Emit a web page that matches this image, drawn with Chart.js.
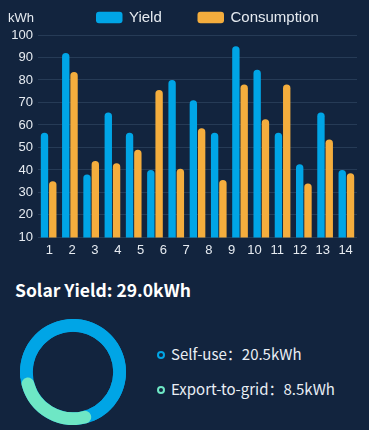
<!DOCTYPE html>
<html>
<head>
<meta charset="utf-8">
<script src="https://cdn.jsdelivr.net/npm/chart.js@4"></script>
<style>
  html, body { margin: 0; padding: 0; background: #12243e; }
  body { width: 369px; height: 430px; position: relative; overflow: hidden; }
  #bars { position: absolute; left: 0; top: 0; }
  #ring { position: absolute; left: 20px; top: 319px; }
  .title {
    position: absolute; left: 15px; top: 280px;
    font: bold 17.5px "Noto Sans CJK SC", sans-serif; line-height: 20px; color: #ffffff;
  }
  .item {
    position: absolute; left: 157px;
    font: 15px "Noto Sans CJK SC", sans-serif; line-height: 20px; color: #e9eef4;
    white-space: nowrap;
  }
  .item i {
    display: inline-block; width: 4px; height: 4px; border-radius: 50%;
    border: 2px solid; margin-right: 6px; vertical-align: 1px;
  }
</style>
</head>
<body>
<canvas id="bars" width="369" height="265"></canvas>
<div class="title" id="title"></div>
<canvas id="ring" width="106" height="106"></canvas>
<div id="items"></div>

<script>
// bar chart data
const days = ['1', '2', '3', '4', '5', '6', '7', '8', '9', '10', '11', '12', '13', '14', '15'];
const tickLabels = ['1', '2', '3', '4', '5', '6', '7', '8', '9', '10', '11', '12', '13', '14'];
const yieldValues = [56.5, 92, 38, 65.5, 56.5, 40, 80, 71, 56.5, 95, 84.5, 56.5, 42.5, 65.5, 40];
const consumptionValues = [35, 83.5, 44, 43, 49, 75.5, 40.5, 58.5, 35.5, 78, 62.5, 78, 34, 53.5, 38.5];

// doughnut data
const splitLabels = ['Self-use', 'Export-to-grid'];
const splitValues = [20.5, 8.5];

const blue = '#00a5e6';
const orange = '#f4ad3d';
const mint = '#6ee7c5';
const textColor = '#e6ebf1';
const gridColor = '#263b56';

// legend + unit label drawn on top of the bar chart
const topLegend = {
  id: 'topLegend',
  afterDraw(chart, args, opts) {
    const ctx = chart.ctx;
    ctx.save();
    ctx.textBaseline = 'middle';
    ctx.font = '13px "Liberation Sans", Arial, sans-serif';
    ctx.fillStyle = textColor;
    ctx.fillText('kWh', 8, 18);
    ctx.font = '15px "Liberation Sans", Arial, sans-serif';
    chart.data.datasets.forEach((ds, i) => {
      const x = opts.x[i];
      ctx.fillStyle = ds.backgroundColor;
      ctx.beginPath();
      ctx.roundRect(x, 11.7, 26.5, 11.6, 3);
      ctx.fill();
      ctx.fillStyle = textColor;
      ctx.fillText(ds.label, x + 33, 18);
    });
    ctx.restore();
  }
};

new Chart(document.getElementById('bars'), {
  type: 'bar',
  data: {
    labels: days,
    datasets: [{
      label: 'Yield',
      data: yieldValues,
      backgroundColor: blue,
      borderRadius: { topLeft: 4, topRight: 4, bottomLeft: 0, bottomRight: 0 },
      borderSkipped: false,
      xAxisID: 'x'
    }, {
      label: 'Consumption',
      data: consumptionValues,
      backgroundColor: orange,
      borderRadius: { topLeft: 4, topRight: 4, bottomLeft: 0, bottomRight: 0 },
      borderSkipped: false,
      xAxisID: 'x'
    }]
  },
  options: {
    responsive: false,
    animation: false,
    categoryPercentage: 0.78,
    barPercentage: 0.89,
    layout: { padding: { left: 6, right: 12, top: 35, bottom: 2 } },
    scales: {
      x: { type: 'category', display: false, offset: true },
      x2: {
        type: 'category',
        labels: tickLabels,
        position: 'bottom',
        offset: true,
        grid: { display: false, drawTicks: false },
        border: { display: false },
        ticks: { color: textColor, padding: 5, maxRotation: 0, autoSkip: false,
                 font: { family: '"Liberation Sans", Arial, sans-serif', size: 13 } }
      },
      y: {
        min: 10,
        max: 100,
        afterFit: (scale) => { scale.width = 32; },
        grid: { color: gridColor, drawTicks: false },
        border: { display: false },
        ticks: { stepSize: 10, color: textColor, padding: 5,
                 font: { family: '"Liberation Sans", Arial, sans-serif', size: 13 } }
      }
    },
    plugins: {
      legend: { display: false },
      tooltip: { enabled: false },
      topLegend: { x: [96, 197.5] }
    }
  },
  plugins: [topLegend]
});

// full blue track under the doughnut so the rounded green ends sit on it
const ringTrack = {
  id: 'ringTrack',
  beforeDatasetsDraw(chart, args, opts) {
    const arc = chart.getDatasetMeta(0).data[0];
    const { x, y, innerRadius, outerRadius } = arc.getProps(['x', 'y', 'innerRadius', 'outerRadius'], true);
    const ctx = chart.ctx;
    ctx.save();
    ctx.beginPath();
    ctx.arc(x, y, outerRadius, 0, Math.PI * 2);
    ctx.arc(x, y, innerRadius, 0, Math.PI * 2, true);
    ctx.fillStyle = opts.color;
    ctx.fill();
    ctx.restore();
  }
};

new Chart(document.getElementById('ring'), {
  type: 'doughnut',
  data: {
    labels: splitLabels,
    datasets: [{
      data: splitValues,
      backgroundColor: [blue, mint],
      borderWidth: 0,
      borderRadius: (c) => (c.dataIndex === 1 ? 7 : 0)
    }]
  },
  options: {
    responsive: false,
    animation: false,
    cutout: '76%',
    rotation: 263,
    plugins: {
      legend: { display: false },
      tooltip: { enabled: false },
      ringTrack: { color: blue }
    }
  },
  plugins: [ringTrack]
});

// texts under the bar chart
const total = splitValues.reduce((a, b) => a + b, 0);
document.getElementById('title').textContent = 'Solar Yield: ' + total.toFixed(1) + 'kWh';
const markerColors = [blue, mint];
const itemTops = [343.5, 378.5];
const items = document.getElementById('items');
splitLabels.forEach((label, i) => {
  const div = document.createElement('div');
  div.className = 'item';
  div.style.top = itemTops[i] + 'px';
  const dot = document.createElement('i');
  dot.style.borderColor = markerColors[i];
  div.appendChild(dot);
  div.appendChild(document.createTextNode(label + '：' + splitValues[i].toFixed(1) + 'kWh'));
  items.appendChild(div);
});
</script>
</body>
</html>
